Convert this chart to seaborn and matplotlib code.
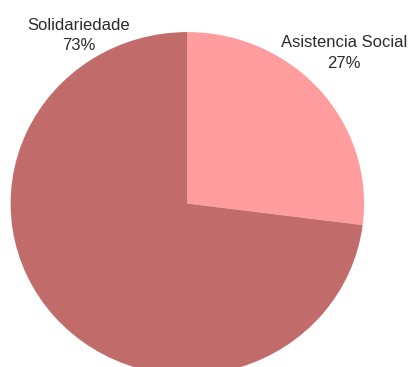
import matplotlib
matplotlib.use("Agg")
import matplotlib.pyplot as plt
import seaborn as sns

# data
categories = ["Asistencia Social", "Solidariedade"]
shares = [27, 73]
slice_colors = ["#ff9d9e", "#c16c6b"]

sns.set_theme(style="white")
plt.rcParams['font.family'] = ['Liberation Sans', 'DejaVu Sans']

fig = plt.figure(figsize=(4.10, 3.67), dpi=100)
ax = fig.add_axes([0, 0, 1, 1])

ax.pie(shares, colors=slice_colors, startangle=90, counterclock=False,
       wedgeprops=dict(linewidth=0))

# pie is slightly squashed in the reference, so drop the equal aspect
ax.set_aspect('auto')
ax.set_xlim(-1.06, 1.26)
ax.set_ylim(-0.953, 1.187)
ax.axis('off')

# labels sit outside the slices, top left / top right
label_pos = {"Solidariedade": (0.192, 0.903), "Asistencia Social": (0.839, 0.856)}
for name, val in zip(categories, shares):
    x, y = label_pos[name]
    ax.text(x, y, f"{name}\n{val}%", transform=ax.transAxes,
            ha='center', va='center', fontsize=12, color='#2b2b2b',
            linespacing=1.45)

fig.savefig("out.png", dpi=100)
